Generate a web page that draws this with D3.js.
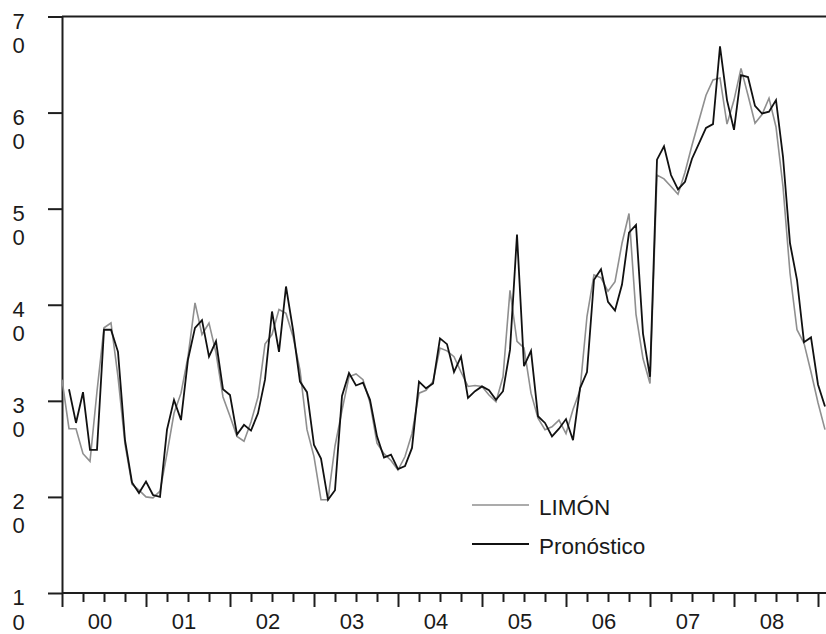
<!DOCTYPE html>
<html>
<head>
<meta charset="utf-8">
<script src="https://cdn.jsdelivr.net/npm/d3@7"></script>
<style>
  body { margin: 0; background: #fff; }
  svg { display: block; }
  text { font-family: "Liberation Sans", Arial, Helvetica, sans-serif; fill: #1a1a1a; }
</style>
</head>
<body>
<svg id="chart" width="826" height="634"></svg>
<script>
// Monthly series, Jan 2000 onward
const yearLabels = ["00", "01", "02", "03", "04", "05", "06", "07", "08"];
const yTicks = [10, 20, 30, 40, 50, 60, 70];
const seriesNames = ["LIMÓN", "Pronóstico"];

const limon = [
  32.2, 27.1, 27.1, 24.5, 23.7, 31.0, 37.6, 38.1, 32.5, 25.5, 21.3, 20.7,
  20.0, 19.9, 20.6, 24.5, 28.7, 30.8, 34.6, 40.2, 36.9, 38.1, 35.0, 30.4,
  28.4, 26.3, 25.8, 27.8, 30.4, 35.9, 36.9, 39.5, 39.1, 36.7, 33.2, 27.0,
  24.2, 19.7, 19.7, 25.3, 29.0, 32.5, 32.8, 32.2, 29.8, 25.6, 24.5, 23.8,
  22.8, 24.2, 26.6, 30.8, 31.1, 32.0, 35.5, 35.2, 34.6, 33.0, 31.5, 31.6,
  31.5, 30.6, 29.9, 32.5, 41.5, 36.2, 35.5, 30.8, 28.2, 27.0, 27.3, 28.0,
  26.6, 29.1, 31.1, 38.8, 43.1, 42.8, 41.4, 42.4, 46.4, 49.5, 39.0, 34.4,
  31.8, 53.5, 53.1, 52.3, 51.5, 53.8, 56.6, 59.2, 61.8, 63.4, 63.6, 58.8,
  61.3, 64.6, 61.8, 58.9, 59.8, 61.5, 58.5, 52.3, 43.3, 37.4, 36.0, 33.0,
  29.8, 27.0
];

const pronostico = [
  null, 31.2, 27.7, 30.9, 24.9, 24.9, 37.4, 37.4, 35.1, 25.9, 21.5, 20.4,
  21.6, 20.2, 20.0, 27.0, 30.1, 28.0, 34.3, 37.6, 38.4, 34.6, 36.2, 31.2,
  30.6, 26.5, 27.5, 26.9, 28.7, 32.2, 39.3, 35.1, 41.9, 37.4, 32.0, 30.9,
  25.4, 24.0, 19.7, 20.7, 30.5, 32.9, 31.6, 31.9, 30.1, 26.3, 24.1, 24.4,
  22.9, 23.2, 25.1, 32.0, 31.3, 31.8, 36.5, 35.9, 33.0, 34.6, 30.3, 31.0,
  31.5, 31.1, 30.1, 31.0, 35.3, 47.3, 33.6, 35.2, 28.4, 27.7, 26.3, 27.1,
  28.1, 25.9, 31.3, 33.0, 42.6, 43.7, 40.3, 39.4, 42.1, 47.5, 48.3, 37.0,
  32.5, 55.1, 56.5, 53.5, 52.0, 52.8, 55.2, 56.8, 58.4, 58.8, 66.9, 61.3,
  58.2, 63.9, 63.7, 60.7, 59.9, 60.1, 61.3, 55.4, 46.4, 42.6, 36.1, 36.6,
  31.7, 29.4
];

const plotLeft = 62, plotTop = 16.5, plotBottom = 593, plotRight = 826;
const axisColor = "#1e1e1e";

const svg = d3.select("#chart");

// month index -> x, each year spans 12 months
const x = d3.scaleLinear().domain([0, 12 * yearLabels.length]).range([plotLeft, 818]);
const y = d3.scaleLinear().domain([10, 70]).range([plotBottom, plotTop]);

// Y axis with ticks, labels split over two lines
const yAxis = svg.append("g")
  .attr("transform", `translate(${plotLeft},0)`)
  .call(d3.axisLeft(y).tickValues(yTicks).tickSize(14).tickSizeOuter(0).tickFormat(""));
yAxis.select(".domain").attr("stroke", axisColor).attr("stroke-width", 2);
yAxis.selectAll(".tick line").attr("stroke", axisColor).attr("stroke-width", 2);

const yLab = svg.append("g");
yTicks.forEach(v => {
  const s = String(v);
  yLab.append("text").attr("x", 18.5).attr("y", y(v) + 12)
    .attr("text-anchor", "middle").attr("font-size", 22).text(s[0]);
  yLab.append("text").attr("x", 18.5).attr("y", y(v) + 36.5)
    .attr("text-anchor", "middle").attr("font-size", 22).text(s.slice(1));
});

// top frame line
svg.append("line")
  .attr("x1", plotLeft).attr("x2", plotRight)
  .attr("y1", y(70)).attr("y2", y(70))
  .attr("stroke", axisColor).attr("stroke-width", 2);

// X axis: quarterly minor ticks, yearly major ticks
const xTickVals = d3.range(0, 12 * yearLabels.length + 1, 3);
const xAxis = svg.append("g")
  .attr("transform", `translate(0,${plotBottom})`)
  .call(d3.axisBottom(x).tickValues(xTickVals).tickSizeOuter(0).tickFormat(""));
xAxis.select(".domain").remove();
xAxis.selectAll(".tick line")
  .attr("stroke", axisColor)
  .attr("stroke-width", 2)
  .attr("y2", d => d % 12 === 0 ? 14 : 9);
svg.append("line")
  .attr("x1", plotLeft).attr("x2", plotRight)
  .attr("y1", plotBottom).attr("y2", plotBottom)
  .attr("stroke", axisColor).attr("stroke-width", 2);

svg.append("g").selectAll("text")
  .data(yearLabels)
  .join("text")
  .attr("x", (d, i) => x(i * 12 + 6) - 4)
  .attr("y", 628.5)
  .attr("text-anchor", "middle")
  .attr("font-size", 22)
  .text(d => d);

// Series lines
const line = d3.line()
  .defined(d => d != null)
  .x((d, i) => x(i))
  .y(d => y(d));

svg.append("path")
  .datum(limon)
  .attr("fill", "none")
  .attr("stroke", "#8f8f8f")
  .attr("stroke-width", 1.6)
  .attr("d", line);

svg.append("path")
  .datum(pronostico)
  .attr("fill", "none")
  .attr("stroke", "#111")
  .attr("stroke-width", 1.8)
  .attr("d", line);

// Legend
const legend = svg.append("g");
const legendItems = [
  { name: seriesNames[0], color: "#8f8f8f", width: 1.6, y: 505 },
  { name: seriesNames[1], color: "#111", width: 1.8, y: 544 }
];
legendItems.forEach(it => {
  legend.append("line")
    .attr("x1", 472).attr("x2", 529)
    .attr("y1", it.y).attr("y2", it.y)
    .attr("stroke", it.color).attr("stroke-width", it.width);
  legend.append("text")
    .attr("x", 539).attr("y", it.y + 9.5)
    .attr("font-size", 22.5)
    .text(it.name);
});
</script>
</body>
</html>
